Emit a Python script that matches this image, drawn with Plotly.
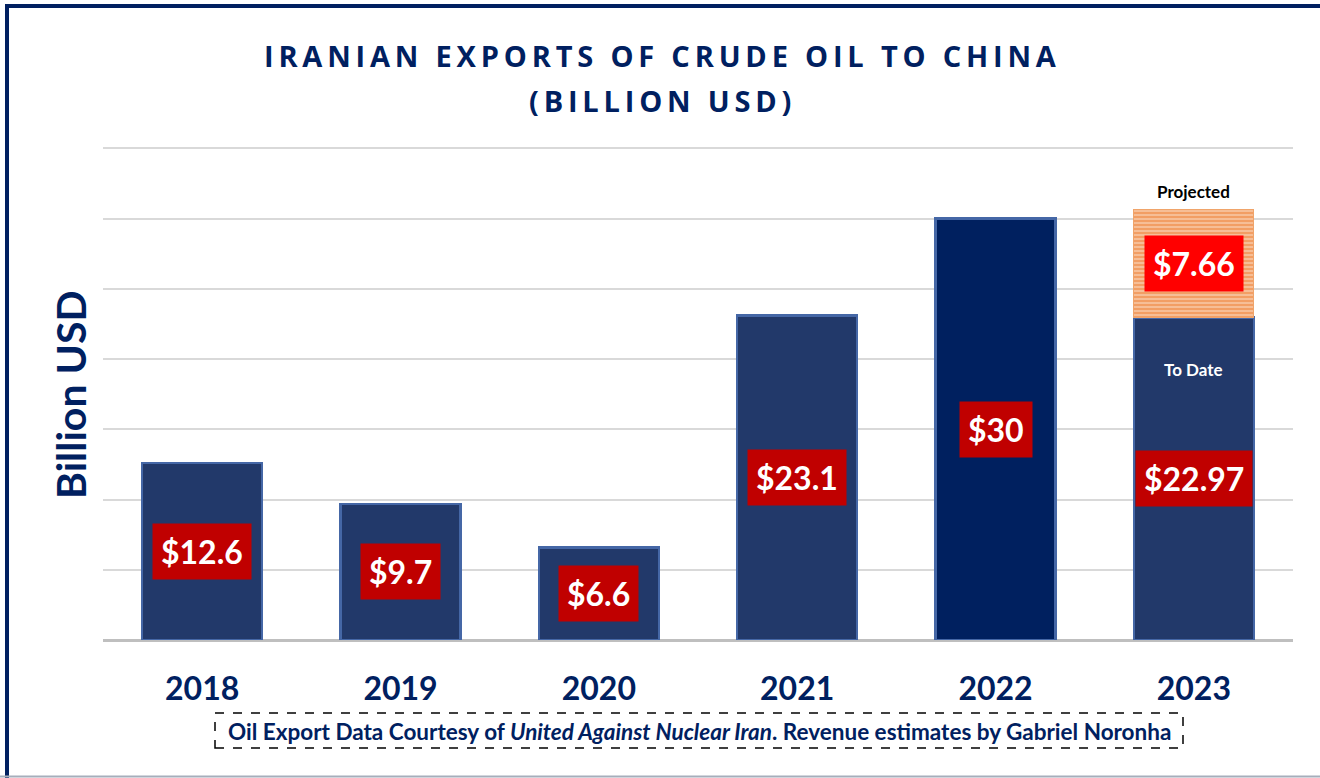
import plotly.graph_objects as go

# chart data
years = ['2018', '2019', '2020', '2021', '2022', '2023']
exports = [12.6, 9.7, 6.6, 23.1, 30, 22.97]
projected_years = ['2023']
projected = [7.66]
bar_colors = ['#22396a', '#22396a', '#22396a', '#22396a', '#00205f', '#22396a']

NAVY = '#002060'

# plot area in pixels (used to place decorations outside the axes)
L, R, T, B = 103, 1293, 147, 640
W, H = R - L, B - T


def px_x(px):
    return (px - L) / W


def px_y(py):
    return (B - py) / H


def spaced(s):
    # fake letter spacing with thin spaces
    return '\u2009'.join(list(s))


fig = go.Figure()

fig.add_trace(go.Bar(
    x=years, y=exports, width=0.605,
    marker=dict(color=bar_colors, line=dict(color='#4567a6', width=2.5)),
    hoverinfo='x+y', showlegend=False,
))
fig.add_trace(go.Bar(
    x=projected_years, y=projected, width=0.605,
    marker=dict(color='#f4b183', line=dict(color='#f0a46a', width=1),
                pattern=dict(shape='-', fgcolor='#ed7d31', bgcolor='#f6be96',
                             size=4, solidity=0.5)),
    hoverinfo='x+y', showlegend=False,
))

lab_font = dict(family='Lato', size=32, color='white', weight='bold')

# value boxes in the middle of each bar (category index as x)
for i, v in enumerate(exports):
    fig.add_annotation(x=i, y=v / 2, text=f'${v:g}', showarrow=False,
                       xanchor='center', yanchor='middle',
                       font=lab_font, bgcolor='#c00000', borderpad=8)

i23 = years.index('2023')
base_2023 = exports[i23]
for yr, v in zip(projected_years, projected):
    i = years.index(yr)
    fig.add_annotation(x=i, y=base_2023 + v / 2, text=f'${v:g}', showarrow=False,
                       xanchor='center', yanchor='middle',
                       font=lab_font, bgcolor='#ff0000', borderpad=8)
    fig.add_annotation(x=i, y=base_2023 + v, text='Projected', showarrow=False,
                       xanchor='center', yanchor='bottom', yshift=6,
                       font=dict(family='Lato', size=17, color='black', weight='bold'))
    fig.add_annotation(x=i, y=base_2023, text='To Date', showarrow=False,
                       xanchor='center', yanchor='middle', yshift=-52,
                       font=dict(family='Lato', size=17, color='white', weight='bold'))

# title
fig.add_annotation(xref='paper', yref='paper', x=px_x(660), y=px_y(55),
                   xanchor='center', yanchor='middle',
                   text=spaced('IRANIAN EXPORTS OF CRUDE OIL TO CHINA'),
                   showarrow=False,
                   font=dict(family='Open Sans', size=29, color=NAVY, weight='bold'))
fig.add_annotation(xref='paper', yref='paper', x=px_x(660), y=px_y(100),
                   xanchor='center', yanchor='middle',
                   text=spaced('(BILLION USD)'), showarrow=False,
                   font=dict(family='Open Sans', size=29, color=NAVY, weight='bold'))

# y axis title
fig.add_annotation(xref='paper', yref='paper', x=px_x(70), y=px_y(395),
                   xanchor='center', yanchor='middle',
                   text='Billion USD', textangle=-90, showarrow=False,
                   font=dict(family='Lato', size=41, color=NAVY, weight='bold'))

# footer note in dashed box
fig.add_annotation(xref='paper', yref='paper', x=px_x(699), y=px_y(731),
                   xanchor='center', yanchor='middle',
                   text='Oil Export Data Courtesy of <i>United Against Nuclear Iran</i>. '
                        'Revenue estimates by Gabriel Noronha',
                   showarrow=False,
                   font=dict(family='Lato', size=22.5, color=NAVY, weight='bold'))
fig.add_shape(type='rect', xref='paper', yref='paper',
              x0=px_x(215), x1=px_x(1183), y0=px_y(748), y1=px_y(713),
              line=dict(color='black', width=1.5, dash='dash'))

# frame
fig.add_shape(type='line', xref='paper', yref='paper',
              x0=px_x(7), x1=px_x(7), y0=px_y(4), y1=px_y(778),
              line=dict(color=NAVY, width=4))
fig.add_shape(type='line', xref='paper', yref='paper',
              x0=px_x(5), x1=px_x(1320), y0=px_y(6), y1=px_y(6),
              line=dict(color=NAVY, width=4))
fig.add_shape(type='line', xref='paper', yref='paper',
              x0=px_x(0), x1=px_x(1320), y0=px_y(776.5), y1=px_y(776.5),
              line=dict(color='#a6aebb', width=2))

fig.update_layout(
    width=1320, height=778,
    margin=dict(l=L, r=1320 - R, t=T, b=778 - B),
    barmode='stack',
    plot_bgcolor='white', paper_bgcolor='white',
    font=dict(family='Lato', color=NAVY),
)
fig.update_xaxes(
    type='category', range=[-0.5, len(years) - 0.5],
    showline=False, showgrid=False,
    tickfont=dict(family='Lato', size=32, color=NAVY, weight='bold'),
    ticklabelstandoff=27,
)
fig.update_yaxes(
    range=[0, 35.1], dtick=5, showticklabels=False,
    showgrid=True, gridcolor='#d9d9d9', gridwidth=2,
    zeroline=True, zerolinecolor='#bfbfbf', zerolinewidth=3,
    showline=False,
)

fig.write_html('out.html', config={'displayModeBar': False},
               post_script="document.body.style.margin='0';")
